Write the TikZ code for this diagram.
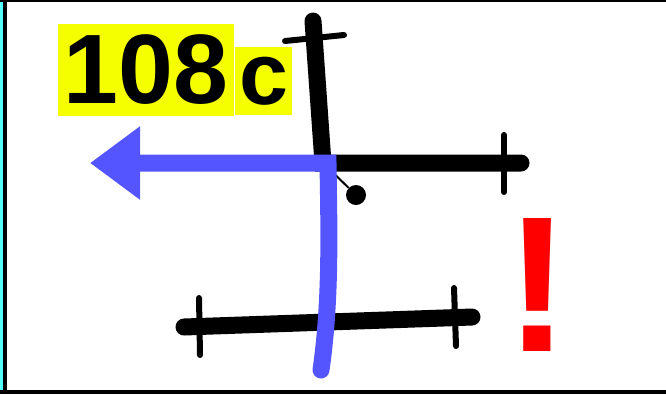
\documentclass[tikz,border=0pt]{standalone}
\usepackage{fontspec}
\setmainfont{Liberation Sans}
\usepackage{tikz}
\usetikzlibrary{arrows.meta, positioning}
\definecolor{bleuFleche}{RGB}{85, 85, 255}
\definecolor{jauneEtiquette}{RGB}{245, 255, 0}
\definecolor{cyanBord}{RGB}{85, 250, 250}
\definecolor{rougeAlerte}{RGB}{255, 0, 0}

\begin{document}
\begin{tikzpicture}[x=0.75pt, y=-0.75pt,
  barre/.style={line width=12.75pt, line cap=round, draw=black},
  tic/.style={line width=4.5pt, line cap=round, draw=black},
  etiq/.style={fill=jauneEtiquette, inner sep=0pt,
    font=\fontsize{74}{74}\selectfont\bfseries},
  fleche/.style={line width=12.75pt, line cap=round, draw=bleuFleche,
    -{Triangle[length=37.5pt, width=52.5pt]}},
]
\useasboundingbox (0,0) rectangle (666,394);
% cadre
\fill[cyanBord] (0,0) rectangle (3,394);
\fill[black] (3,0) rectangle (7,394);
\fill[black] (0,0) rectangle (666,1.5);
\fill[black] (0,390) rectangle (666,394);

\node[etiq, minimum width=132pt, minimum height=69pt] (num) at (146,70) {108};
\node[etiq, minimum width=42.75pt, minimum height=51pt,
  font=\fontsize{66}{66}\selectfont\bfseries] (lettre) at (263.5,81) {c};
\node[inner sep=0pt, text=rougeAlerte,
  font=\fontsize{145}{145}\selectfont\bfseries] (alerte) at (537.5,285) {!};
\node[circle, fill=black, minimum size=15pt, inner sep=0pt] (bille) at (356,195) {};

\coordinate (haut)   at (313,21);
\coordinate (coin)   at (323,163);
\coordinate (droite) at (521,163);
\coordinate (gauche) at (184,327);
\coordinate (fin)    at (472,317);
\coordinate (depart) at (321,370);
\coordinate (pointe) at (90,163);

\draw[barre] (haut) -- (coin) -- (droite);
\draw[barre] (gauche) -- (fin);
\foreach \xa/\ya/\xb/\yb in {285/41/344/35, 504/135/504/192,
                             199/298/200/355, 454/288/456/346}
  \draw[tic] (\xa,\ya) -- (\xb,\yb);
\draw[line width=1.5pt] (coin) -- (bille);
\draw[fleche] (depart) .. controls (331,300) and (329,230) .. (328,163)
  -- (pointe);
\end{tikzpicture}
\end{document}
